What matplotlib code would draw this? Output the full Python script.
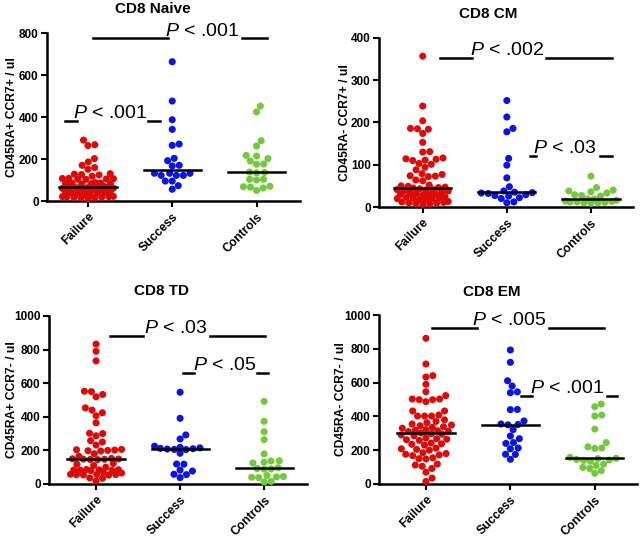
import numpy as np
import matplotlib
matplotlib.use("Agg")
import matplotlib.pyplot as plt

plt.rcParams['font.family'] = ['Liberation Sans', 'DejaVu Sans']
plt.rcParams['mathtext.fontset'] = 'custom'
plt.rcParams['mathtext.it'] = 'Liberation Sans:italic'
plt.rcParams['mathtext.rm'] = 'Liberation Sans'

groups = ["Failure", "Success", "Controls"]
colors = ["#dd0a0a", "#0a14e6", "#74c83c"]

titles = ["CD8 Naive", "CD8 CM", "CD8 TD", "CD8 EM"]
ylabels = ["CD45RA+ CCR7+ / ul", "CD45RA- CCR7+ / ul", "CD45RA+ CCR7- / ul", "CD45RA- CCR7- / ul"]
ymaxes = [800, 400, 1000, 1000]
ysteps = [200, 100, 200, 200]

# CD8 Naive
naive_failure = [290, 268, 264, 202, 186, 170, 159, 151, 130, 128, 126, 124, 118, 108, 107, 106, 105,
                 104, 103, 88, 86, 85, 84, 83, 82, 80, 66, 65, 64, 63, 63, 62, 61, 60, 59, 47, 46, 45,
                 44, 43, 42, 41, 40, 38, 36, 24, 22, 21, 20, 19, 18, 17, 16, 15, 12, 30, 55, 70]
naive_success = [663, 476, 387, 341, 271, 265, 203, 192, 170, 167, 132, 132, 122, 122, 122, 132, 95, 95, 73, 56]
naive_controls = [452, 424, 287, 262, 217, 214, 202, 190, 176, 175, 138, 136, 134, 103, 103, 100, 70, 68, 66, 50, 62]

# CD8 CM
cm_failure = [357, 239, 204, 186, 185, 184, 174, 153, 131, 130, 116, 114, 113, 111, 110, 103, 101, 94, 88,
              79, 77, 74, 73, 72, 64, 62, 52, 50, 49, 47, 46, 45, 43, 42, 41, 40, 39, 38, 34, 33, 32, 31,
              30, 29, 28, 24, 23, 22, 21, 20, 19, 18, 17, 13, 12, 11, 10, 9, 8, 7, 6]
cm_success = [252, 213, 186, 178, 115, 99, 69, 48, 38, 35, 34, 33, 32, 29, 27, 26, 22, 20, 12, 10]
cm_controls = [73, 46, 40, 38, 36, 33, 29, 27, 26, 19, 19, 16, 14, 13, 12, 12, 11, 10, 10, 9]

# CD8 TD
td_failure = [833, 790, 733, 552, 550, 533, 519, 453, 440, 424, 406, 364, 302, 300, 287, 258, 250, 232,
              206, 204, 202, 200, 198, 196, 180, 165, 152, 150, 149, 148, 147, 146, 145, 122, 118, 110,
              100, 86, 85, 84, 83, 82, 81, 80, 70, 65, 58, 57, 56, 55, 54, 53, 36, 34, 18]
td_success = [546, 391, 292, 268, 225, 218, 215, 212, 210, 208, 206, 205, 183, 119, 118, 83, 77, 58, 56, 38]
td_controls = [492, 373, 311, 264, 179, 138, 137, 130, 125, 97, 92, 90, 88, 50, 45, 42, 40, 38, 15, 12]

# CD8 EM
em_failure = [862, 710, 641, 633, 590, 546, 523, 503, 503, 499, 499, 487, 432, 432, 408, 402, 402, 402,
              380, 370, 363, 355, 349, 345, 339, 335, 330, 322, 318, 315, 312, 310, 302, 298, 295, 290,
              285, 272, 268, 265, 262, 258, 242, 238, 235, 230, 212, 208, 205, 200, 185, 180, 176, 172,
              168, 155, 150, 148, 118, 112, 105, 92, 70, 35, 15]
em_success = [793, 720, 611, 580, 545, 540, 441, 440, 373, 355, 352, 350, 322, 284, 268, 245, 240, 213,
              208, 176, 175, 146]
em_controls = [473, 457, 408, 402, 325, 245, 220, 213, 211, 158, 152, 150, 145, 142, 140, 135, 118, 110,
               98, 92, 79, 63]

panel_data = [
    [naive_failure, naive_success, naive_controls],
    [cm_failure, cm_success, cm_controls],
    [td_failure, td_success, td_controls],
    [em_failure, em_success, em_controls],
]

# annotations: (left line x1,x2), (right line x1,x2), line y, text x, text y, label
annotations = [
    [((0.06, 0.95), (1.83, 2.12), 776, 1.36, 786, ".001"),
     ((-0.27, -0.13), (0.71, 0.85), 381, 0.26, 395, ".001")],
    [((0.20, 0.58), (1.46, 2.25), 352, 1.00, 360, ".002"),
     ((1.27, 1.35), (2.11, 2.25), 121, 1.69, 127, ".03")],
    [((0.16, 0.56), (1.35, 2.01), 881, 0.95, 901, ".03"),
     ((1.04, 1.16), (1.92, 2.04), 659, 1.53, 679, ".05")],
    [((0.07, 0.60), (1.46, 2.11), 921, 0.99, 941, ".005"),
     ((1.13, 1.26), (2.14, 2.26), 523, 1.67, 540, ".001")],
]

W, H = 640, 538
# axes boxes in pixels: left, right, top(ymax), bottom(0)
boxes = [(47, 300, 33, 201), (379, 633, 38, 207), (49, 307, 316, 484), (379, 637, 315, 484)]
xlims = [(-0.485, 2.515), (-0.52, 2.50), (-0.56, 2.51), (-0.556, 2.50)]
title_pos = [(153, 9), (488, 14), (162, 291), (492, 292)]
ylabel_px = [18, 351, 18, 347]

fig = plt.figure(figsize=(W / 100, H / 100), dpi=100)


def swarm(vals, xppu, yppu, d, maxw):
    vals = np.asarray(vals, dtype=float)
    order = np.argsort(vals)
    placed = []
    offs = np.zeros(len(vals))
    grid = list(np.linspace(-maxw, maxw, 17))
    for i in order:
        y = vals[i] * yppu
        cands = [0.0] + grid
        for (xj, yj) in placed:
            dy = abs(y - yj)
            if dy < d:
                dx = np.sqrt(d * d - dy * dy)
                cands += [xj + dx, xj - dx]
        cands = [c for c in cands if abs(c) <= maxw + 1e-9]
        cands = sorted(cands, key=lambda c: (round(abs(c), 6), -c))
        best, bestd = None, -1
        chosen = None
        for c in cands:
            md = min([np.hypot(c - xj, y - yj) for (xj, yj) in placed] + [1e9])
            if md >= d - 1e-6:
                chosen = c
                break
            if md > bestd + 1e-6:
                best, bestd = c, md
        if chosen is None:
            chosen = best
        placed.append((chosen, y))
        offs[i] = chosen / xppu
    return offs


for k in range(4):
    l, r, t, b = boxes[k]
    ax = fig.add_axes([l / W, 1 - b / H, (r - l) / W, (b - t) / H])
    ax.set_xlim(*xlims[k])
    ax.set_ylim(0, ymaxes[k])
    xppu = (r - l) / (xlims[k][1] - xlims[k][0])
    yppu = (b - t) / ymaxes[k]
    for g in range(3):
        vals = panel_data[k][g]
        offs = swarm(vals, xppu, yppu, 7.0, 25.5)
        ax.scatter(g + offs, vals, s=26, color=colors[g], edgecolors='none', zorder=3, clip_on=False)
        med = np.median(vals)
        ax.plot([g - 0.34, g + 0.34], [med, med], color='black', lw=1.8, zorder=4)
    for (ll, rl, ly, tx, ty, lab) in annotations[k]:
        ax.plot(ll, [ly, ly], color='black', lw=1.8, clip_on=False)
        ax.plot(rl, [ly, ly], color='black', lw=1.8, clip_on=False)
        ax.text(tx, ty, r"$P$ < " + lab, ha='center', va='baseline', fontsize=14, clip_on=False)
    ax.spines['top'].set_visible(False)
    ax.spines['right'].set_visible(False)
    ax.spines['left'].set_linewidth(1.8)
    ax.spines['bottom'].set_linewidth(1.8)
    ax.set_yticks(np.arange(0, ymaxes[k] + 1, ysteps[k]))
    ax.set_xticks(range(3))
    ax.set_xticklabels(groups, rotation=45, ha='right', rotation_mode='anchor',
                       fontsize=8.7, fontweight='bold')
    ax.tick_params(axis='both', direction='out', length=4, width=1.5, pad=2)
    ax.tick_params(axis='x', pad=3)
    for lab in ax.get_yticklabels():
        lab.set_fontweight('bold')
        lab.set_fontsize(8.5)
    ax.set_ylabel(ylabels[k], fontsize=8.7, fontweight='bold')
    ax.yaxis.set_label_coords((ylabel_px[k] - l) / (r - l), 0.5)
    tx, ty = title_pos[k]
    fig.text(tx / W, 1 - ty / H, titles[k], ha='center', va='center', fontsize=11, fontweight='bold')

fig.savefig("out.png", dpi=100)
